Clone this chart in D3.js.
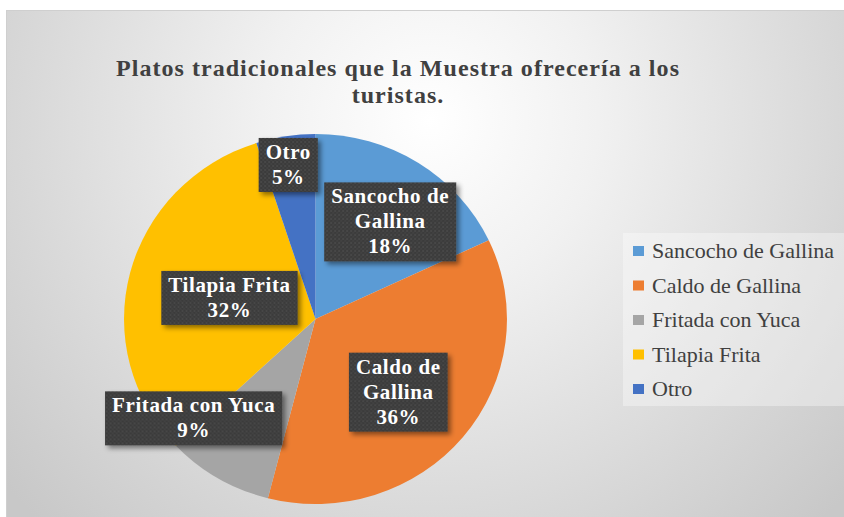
<!DOCTYPE html>
<html>
<head>
<meta charset="utf-8">
<script src="https://cdn.jsdelivr.net/npm/d3@7"></script>
<style>
  body { margin: 0; background: #fff; }
  svg text { font-family: "Times New Roman", "Liberation Serif", "DejaVu Serif", serif; }
</style>
</head>
<body>
<div id="chart"></div>
<script>
// data
const categories = ["Sancocho de Gallina", "Caldo de Gallina", "Fritada con Yuca", "Tilapia Frita", "Otro"];
const values = [18, 36, 9, 32, 5];
const colors = ["#5B9BD5", "#ED7D31", "#A5A5A5", "#FFC000", "#4472C4"];
const labelLines = [["Sancocho de", "Gallina"], ["Caldo de", "Gallina"], ["Fritada con Yuca"], ["Tilapia Frita"], ["Otro"]];
const titleLines = ["Platos tradicionales que la Muestra ofrecería a los", "turistas."];

// label placement (Excel moves them around a bit)
const labelK = [0.66, 0.595, 0.85, 0.48, 0.843];
const labelNudge = [[7, 6], [-5, 3], [-39, -36], [3, 1], [-2, 0]];

const W = 844, H = 517;
const cx = 315.5, cy = 319, R = 185, sx = 1.035;

const svg = d3.select("#chart").append("svg")
    .attr("width", W)
    .attr("height", H)
    .attr("font-family", "Times New Roman, Liberation Serif, DejaVu Serif, serif");

const defs = svg.append("defs");
const grad = defs.append("radialGradient")
    .attr("id", "bg")
    .attr("gradientUnits", "userSpaceOnUse")
    .attr("cx", 430).attr("cy", 120).attr("r", 560);
grad.append("stop").attr("offset", 0).attr("stop-color", "#ffffff");
grad.append("stop").attr("offset", 0.3).attr("stop-color", "#f1f1f1");
grad.append("stop").attr("offset", 1).attr("stop-color", "#c8c8c8");

const pat = defs.append("pattern")
    .attr("id", "dots")
    .attr("width", 4).attr("height", 4)
    .attr("patternUnits", "userSpaceOnUse");
pat.append("rect").attr("width", 4).attr("height", 4).attr("fill", "#3b3b3b");
pat.append("circle").attr("cx", 1).attr("cy", 1).attr("r", 0.8).attr("fill", "#555");
pat.append("circle").attr("cx", 3).attr("cy", 3).attr("r", 0.8).attr("fill", "#4a4a4a");

const shadow = defs.append("filter").attr("id", "shadow")
    .attr("x", "-20%").attr("y", "-20%").attr("width", "150%").attr("height", "160%");
shadow.append("feDropShadow")
    .attr("dx", 3).attr("dy", 3).attr("stdDeviation", 2.5)
    .attr("flood-color", "#000").attr("flood-opacity", 0.45);

// chart panel
svg.append("rect")
    .attr("x", 6.5).attr("y", 10.5)
    .attr("width", W - 6).attr("height", H - 10)
    .attr("fill", "url(#bg)")
    .attr("stroke", "#cfcfcf");

// title, spaced out like the original
const title = svg.append("g").selectAll("text")
    .data(titleLines)
  .enter().append("text")
    .attr("x", 398)
    .attr("y", (d, i) => 76 + i * 27)
    .attr("text-anchor", "middle")
    .attr("font-size", 24)
    .attr("font-weight", "bold")
    .attr("fill", "#404040")
    .text(d => d);
const natural = title.nodes()[0].getComputedTextLength();
const spacing = (563 - natural) / (titleLines[0].length - 1);
title.attr("letter-spacing", spacing);

// pie
const pie = d3.pie().sort(null).value(d => d)
    .startAngle(0).endAngle(2 * Math.PI);
const arcs = pie(values);
const arc = d3.arc().innerRadius(0).outerRadius(R);

svg.append("g")
    .attr("transform", "translate(" + cx + "," + cy + ") scale(" + sx + ",1)")
    .selectAll("path")
    .data(arcs)
  .enter().append("path")
    .attr("d", arc)
    .attr("fill", (d, i) => colors[i]);

// data labels
const labels = svg.append("g").selectAll("g")
    .data(arcs)
  .enter().append("g")
    .attr("transform", (d, i) => {
        const c = d3.arc().innerRadius(R * labelK[i]).outerRadius(R * labelK[i]).centroid(d);
        return "translate(" + (cx + c[0] * sx + labelNudge[i][0]) + "," + (cy + c[1] + labelNudge[i][1]) + ")";
    });

labels.each(function(d, i) {
    const g = d3.select(this);
    const lines = labelLines[i].concat([d.data + "%"]);
    const lh = 25;
    const top = -lines.length * lh / 2;
    const txt = g.selectAll("text")
        .data(lines)
      .enter().append("text")
        .attr("x", 0)
        .attr("y", (t, j) => top + j * lh + 19)
        .attr("text-anchor", "middle")
        .attr("font-size", 21)
        .attr("font-weight", "bold")
        .attr("letter-spacing", 0.6)
        .attr("fill", "#ffffff")
        .text(t => t);
    let w = 0;
    txt.each(function() { w = Math.max(w, this.getComputedTextLength()); });
    g.insert("rect", "text")
        .attr("x", -w / 2 - 7)
        .attr("y", top - 2)
        .attr("width", w + 14)
        .attr("height", lines.length * lh + 4)
        .attr("fill", "url(#dots)")
        .attr("filter", "url(#shadow)");
});

// legend
const legend = svg.append("g");
legend.append("rect")
    .attr("x", 623).attr("y", 233)
    .attr("width", W - 623).attr("height", 173)
    .attr("fill", "#ffffff").attr("fill-opacity", 0.35);

const ly = d3.scalePoint().domain(categories).range([250, 388]);
const items = legend.selectAll(".item")
    .data(categories)
  .enter().append("g")
    .attr("class", "item")
    .attr("transform", d => "translate(633," + ly(d) + ")");
items.append("rect")
    .attr("x", 0).attr("y", -4)
    .attr("width", 11).attr("height", 10)
    .attr("fill", (d, i) => colors[i]);
items.append("text")
    .attr("x", 19).attr("y", 8)
    .attr("font-size", 22)
    .attr("fill", "#404040")
    .text(d => d);
</script>
</body>
</html>
